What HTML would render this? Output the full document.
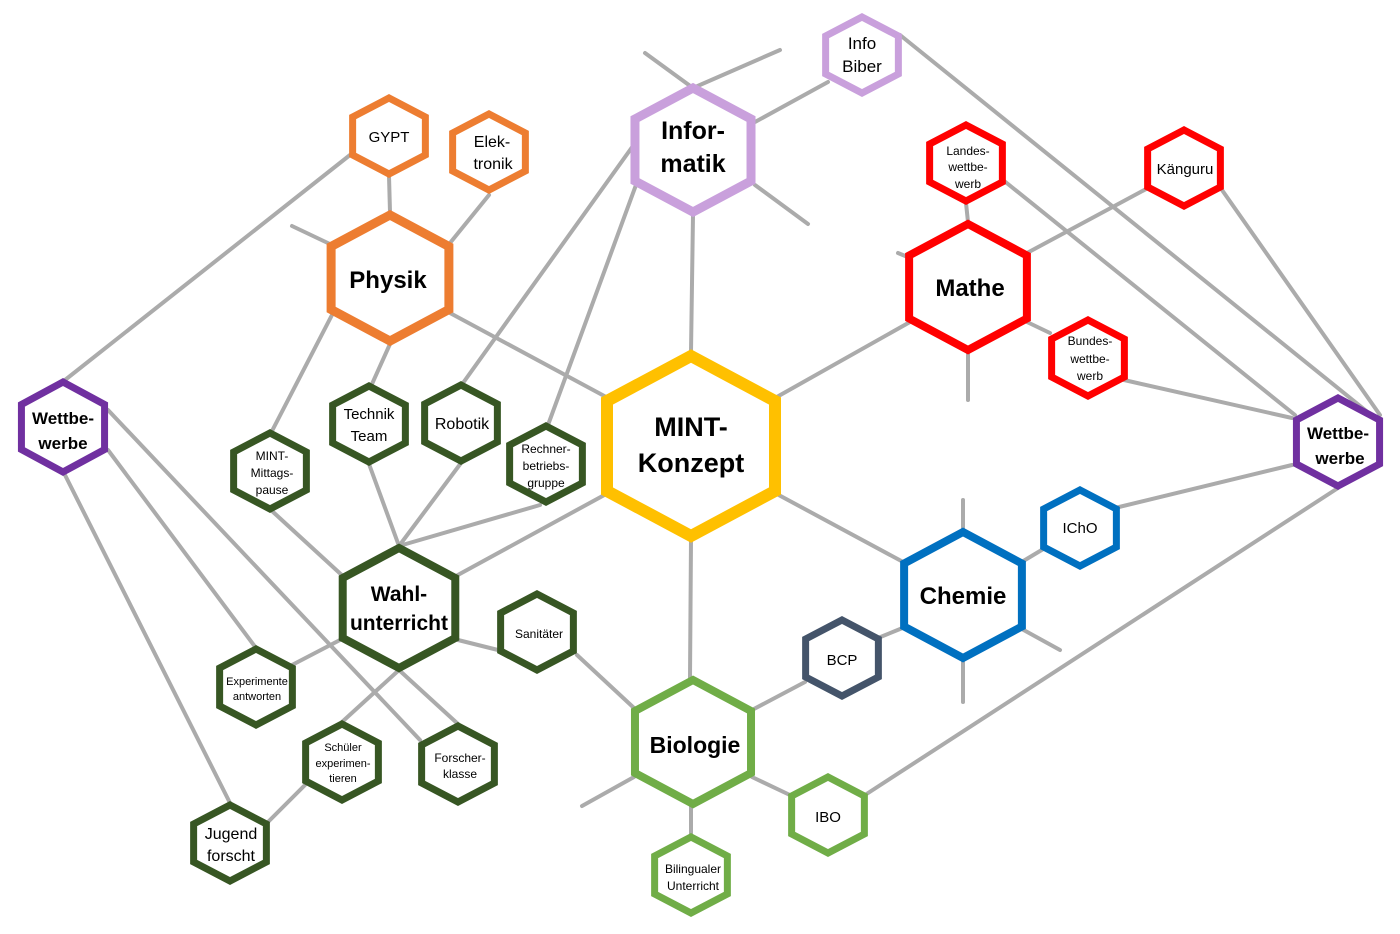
<!DOCTYPE html>
<html><head><meta charset="utf-8"><style>
html,body{margin:0;padding:0;background:#fff;}
svg{display:block;}
text{font-family:"Liberation Sans",sans-serif;text-anchor:middle;fill:#000;}
.b{font-weight:bold;}
polygon{fill:#fff;vector-effect:non-scaling-stroke;}
</style></head><body>
<svg width="1400" height="934" viewBox="0 0 1400 934" xmlns="http://www.w3.org/2000/svg">
<g stroke="#ababab" stroke-width="4" fill="none" stroke-linecap="round">
<line x1="450" y1="313" x2="608" y2="398"/>
<line x1="693" y1="215" x2="691" y2="352"/>
<line x1="775" y1="398" x2="910" y2="322"/>
<line x1="775" y1="493" x2="905" y2="563"/>
<line x1="691" y1="540" x2="690" y2="678"/>
<line x1="608" y1="493" x2="456" y2="576"/>
<line x1="645" y1="53" x2="693" y2="88"/>
<line x1="780" y1="50" x2="693" y2="88"/>
<line x1="755" y1="185" x2="808" y2="224"/>
<line x1="755" y1="122" x2="828" y2="82"/>
<line x1="648" y1="125" x2="463" y2="383"/>
<line x1="636" y1="185" x2="548" y2="425"/>
<line x1="390" y1="212" x2="389" y2="176"/>
<line x1="450" y1="243" x2="489" y2="195"/>
<line x1="292" y1="226" x2="332" y2="245"/>
<line x1="333" y1="313" x2="272" y2="431"/>
<line x1="390" y1="344" x2="372" y2="384"/>
<line x1="350" y1="155" x2="65" y2="380"/>
<line x1="399" y1="546" x2="369" y2="464"/>
<line x1="399" y1="546" x2="461" y2="463"/>
<line x1="399" y1="546" x2="540" y2="505"/>
<line x1="345" y1="578" x2="272" y2="511"/>
<line x1="340" y1="640" x2="292" y2="665"/>
<line x1="458" y1="640" x2="498" y2="650"/>
<line x1="399" y1="670" x2="342" y2="722"/>
<line x1="399" y1="670" x2="458" y2="724"/>
<line x1="577" y1="655" x2="634" y2="708"/>
<line x1="65" y1="475" x2="230" y2="803"/>
<line x1="108" y1="450" x2="256" y2="648"/>
<line x1="108" y1="410" x2="420" y2="740"/>
<line x1="268" y1="822" x2="305" y2="785"/>
<line x1="582" y1="806" x2="634" y2="777"/>
<line x1="691" y1="806" x2="691" y2="835"/>
<line x1="752" y1="777" x2="792" y2="796"/>
<line x1="752" y1="710" x2="805" y2="682"/>
<line x1="878" y1="638" x2="905" y2="627"/>
<line x1="963" y1="500" x2="963" y2="530"/>
<line x1="963" y1="660" x2="963" y2="702"/>
<line x1="1020" y1="628" x2="1060" y2="650"/>
<line x1="1020" y1="563" x2="1045" y2="548"/>
<line x1="1115" y1="508" x2="1292" y2="465"/>
<line x1="865" y1="795" x2="1338" y2="488"/>
<line x1="898" y1="253" x2="910" y2="258"/>
<line x1="968" y1="352" x2="968" y2="400"/>
<line x1="1027" y1="322" x2="1050" y2="333"/>
<line x1="968" y1="222" x2="966" y2="203"/>
<line x1="1027" y1="253" x2="1148" y2="188"/>
<line x1="1003" y1="180" x2="1295" y2="415"/>
<line x1="1124" y1="380" x2="1292" y2="418"/>
<line x1="1222" y1="190" x2="1380" y2="415"/>
<line x1="900" y1="35" x2="1375" y2="418"/>
</g>
<g>
<polygon points="0,-1 0.866,-0.5 0.866,0.5 0,1 -0.866,0.5 -0.866,-0.5" transform="translate(691,446) scale(97,90)" stroke="#FFC000" stroke-width="12"/>
<polygon points="0,-1 0.866,-0.5 0.866,0.5 0,1 -0.866,0.5 -0.866,-0.5" transform="translate(693,150) scale(67,62)" stroke="#C9A0DC" stroke-width="9"/>
<polygon points="0,-1 0.866,-0.5 0.866,0.5 0,1 -0.866,0.5 -0.866,-0.5" transform="translate(862,55) scale(42,38)" stroke="#C9A0DC" stroke-width="7"/>
<polygon points="0,-1 0.866,-0.5 0.866,0.5 0,1 -0.866,0.5 -0.866,-0.5" transform="translate(390,278) scale(68,63)" stroke="#ED7D31" stroke-width="9"/>
<polygon points="0,-1 0.866,-0.5 0.866,0.5 0,1 -0.866,0.5 -0.866,-0.5" transform="translate(389,136) scale(42,38)" stroke="#ED7D31" stroke-width="7"/>
<polygon points="0,-1 0.866,-0.5 0.866,0.5 0,1 -0.866,0.5 -0.866,-0.5" transform="translate(489,152) scale(42,38)" stroke="#ED7D31" stroke-width="7"/>
<polygon points="0,-1 0.866,-0.5 0.866,0.5 0,1 -0.866,0.5 -0.866,-0.5" transform="translate(968,287) scale(68,63)" stroke="#FF0000" stroke-width="8"/>
<polygon points="0,-1 0.866,-0.5 0.866,0.5 0,1 -0.866,0.5 -0.866,-0.5" transform="translate(966,163) scale(42,38)" stroke="#FF0000" stroke-width="7"/>
<polygon points="0,-1 0.866,-0.5 0.866,0.5 0,1 -0.866,0.5 -0.866,-0.5" transform="translate(1184,168) scale(42,38)" stroke="#FF0000" stroke-width="7"/>
<polygon points="0,-1 0.866,-0.5 0.866,0.5 0,1 -0.866,0.5 -0.866,-0.5" transform="translate(1088,358) scale(42,38)" stroke="#FF0000" stroke-width="7"/>
<polygon points="0,-1 0.866,-0.5 0.866,0.5 0,1 -0.866,0.5 -0.866,-0.5" transform="translate(1338,442) scale(48,44)" stroke="#7030A0" stroke-width="7"/>
<polygon points="0,-1 0.866,-0.5 0.866,0.5 0,1 -0.866,0.5 -0.866,-0.5" transform="translate(63,427) scale(48,45)" stroke="#7030A0" stroke-width="7"/>
<polygon points="0,-1 0.866,-0.5 0.866,0.5 0,1 -0.866,0.5 -0.866,-0.5" transform="translate(963,595) scale(68,63)" stroke="#0070C0" stroke-width="8"/>
<polygon points="0,-1 0.866,-0.5 0.866,0.5 0,1 -0.866,0.5 -0.866,-0.5" transform="translate(1080,528) scale(42,38)" stroke="#0070C0" stroke-width="7"/>
<polygon points="0,-1 0.866,-0.5 0.866,0.5 0,1 -0.866,0.5 -0.866,-0.5" transform="translate(842,658) scale(42,38)" stroke="#44546A" stroke-width="7"/>
<polygon points="0,-1 0.866,-0.5 0.866,0.5 0,1 -0.866,0.5 -0.866,-0.5" transform="translate(693,742) scale(67,62)" stroke="#70AD47" stroke-width="8"/>
<polygon points="0,-1 0.866,-0.5 0.866,0.5 0,1 -0.866,0.5 -0.866,-0.5" transform="translate(828,815) scale(42,38)" stroke="#70AD47" stroke-width="7"/>
<polygon points="0,-1 0.866,-0.5 0.866,0.5 0,1 -0.866,0.5 -0.866,-0.5" transform="translate(691,875) scale(42,38)" stroke="#70AD47" stroke-width="7"/>
<polygon points="0,-1 0.866,-0.5 0.866,0.5 0,1 -0.866,0.5 -0.866,-0.5" transform="translate(399,608) scale(65,60)" stroke="#375623" stroke-width="8"/>
<polygon points="0,-1 0.866,-0.5 0.866,0.5 0,1 -0.866,0.5 -0.866,-0.5" transform="translate(369,424) scale(42,38)" stroke="#375623" stroke-width="7"/>
<polygon points="0,-1 0.866,-0.5 0.866,0.5 0,1 -0.866,0.5 -0.866,-0.5" transform="translate(461,423) scale(42,38)" stroke="#375623" stroke-width="7"/>
<polygon points="0,-1 0.866,-0.5 0.866,0.5 0,1 -0.866,0.5 -0.866,-0.5" transform="translate(546,464) scale(42,38)" stroke="#375623" stroke-width="7"/>
<polygon points="0,-1 0.866,-0.5 0.866,0.5 0,1 -0.866,0.5 -0.866,-0.5" transform="translate(270,471) scale(42,38)" stroke="#375623" stroke-width="7"/>
<polygon points="0,-1 0.866,-0.5 0.866,0.5 0,1 -0.866,0.5 -0.866,-0.5" transform="translate(537,632) scale(42,38)" stroke="#375623" stroke-width="7"/>
<polygon points="0,-1 0.866,-0.5 0.866,0.5 0,1 -0.866,0.5 -0.866,-0.5" transform="translate(256,687) scale(42,38)" stroke="#375623" stroke-width="7"/>
<polygon points="0,-1 0.866,-0.5 0.866,0.5 0,1 -0.866,0.5 -0.866,-0.5" transform="translate(342,762) scale(42,38)" stroke="#375623" stroke-width="7"/>
<polygon points="0,-1 0.866,-0.5 0.866,0.5 0,1 -0.866,0.5 -0.866,-0.5" transform="translate(458,764) scale(42,38)" stroke="#375623" stroke-width="7"/>
<polygon points="0,-1 0.866,-0.5 0.866,0.5 0,1 -0.866,0.5 -0.866,-0.5" transform="translate(230,843) scale(42,38)" stroke="#375623" stroke-width="7"/>
</g>
<g>
<text class="b" x="691" y="436" font-size="27">MINT-</text>
<text class="b" x="691" y="472" font-size="27">Konzept</text>
<text class="b" x="693" y="139" font-size="25">Infor-</text>
<text class="b" x="693" y="172" font-size="25">matik</text>
<text x="862" y="49" font-size="17">Info</text>
<text x="862" y="72" font-size="17">Biber</text>
<text class="b" x="388" y="288" font-size="24">Physik</text>
<text x="389" y="142" font-size="15">GYPT</text>
<text x="492" y="147" font-size="16">Elek-</text>
<text x="493" y="169" font-size="16">tronik</text>
<text class="b" x="970" y="296" font-size="24">Mathe</text>
<text x="968" y="155" font-size="12">Landes-</text>
<text x="968" y="171" font-size="12">wettbe-</text>
<text x="968" y="188" font-size="12">werb</text>
<text x="1185" y="174" font-size="15">Känguru</text>
<text x="1090" y="345" font-size="12">Bundes-</text>
<text x="1090" y="363" font-size="12">wettbe-</text>
<text x="1090" y="380" font-size="12">werb</text>
<text class="b" x="1338" y="439" font-size="17">Wettbe-</text>
<text class="b" x="1340" y="464" font-size="17">werbe</text>
<text class="b" x="63" y="424" font-size="17">Wettbe-</text>
<text class="b" x="63" y="449" font-size="17">werbe</text>
<text class="b" x="963" y="604" font-size="24">Chemie</text>
<text x="1080" y="533" font-size="15">IChO</text>
<text x="842" y="665" font-size="15">BCP</text>
<text class="b" x="695" y="753" font-size="23">Biologie</text>
<text x="828" y="822" font-size="15">IBO</text>
<text x="693" y="873" font-size="12">Bilingualer</text>
<text x="693" y="890" font-size="12">Unterricht</text>
<text class="b" x="399" y="601" font-size="21">Wahl-</text>
<text class="b" x="399" y="630" font-size="21">unterricht</text>
<text x="369" y="419" font-size="15">Technik</text>
<text x="369" y="441" font-size="15">Team</text>
<text x="462" y="429" font-size="16">Robotik</text>
<text x="546" y="453" font-size="12">Rechner-</text>
<text x="546" y="470" font-size="12">betriebs-</text>
<text x="546" y="487" font-size="12">gruppe</text>
<text x="272" y="460" font-size="12">MINT-</text>
<text x="272" y="477" font-size="12">Mittags-</text>
<text x="272" y="494" font-size="12">pause</text>
<text x="539" y="638" font-size="12">Sanitäter</text>
<text x="257" y="685" font-size="11">Experimente</text>
<text x="257" y="700" font-size="11">antworten</text>
<text x="343" y="751" font-size="11">Schüler</text>
<text x="343" y="767" font-size="11">experimen-</text>
<text x="343" y="782" font-size="11">tieren</text>
<text x="460" y="762" font-size="12">Forscher-</text>
<text x="460" y="778" font-size="12">klasse</text>
<text x="231" y="839" font-size="16">Jugend</text>
<text x="231" y="861" font-size="16">forscht</text>
</g>
</svg>
</body></html>
